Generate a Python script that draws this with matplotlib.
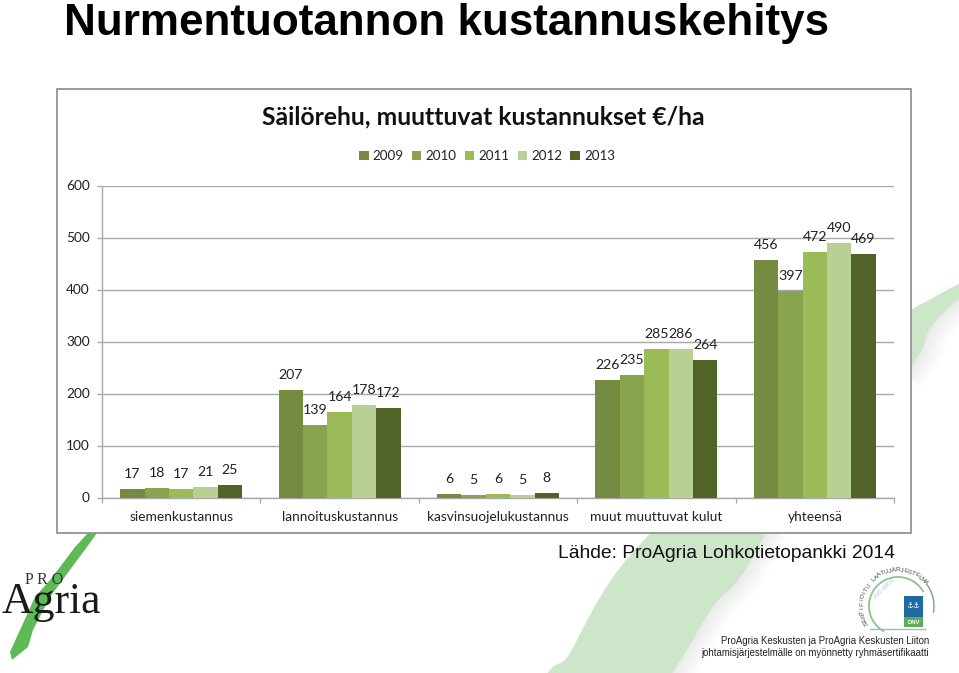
import numpy as np
import matplotlib
matplotlib.use("Agg")
import matplotlib.pyplot as plt
from matplotlib.patches import Polygon, Rectangle, Patch

categories = ["siemenkustannus", "lannoituskustannus", "kasvinsuojelukustannus",
              "muut muuttuvat kulut", "yhteensä"]
years = ["2009", "2010", "2011", "2012", "2013"]
v2009 = [17, 207, 6, 226, 456]
v2010 = [18, 139, 5, 235, 397]
v2011 = [17, 164, 6, 285, 472]
v2012 = [21, 178, 5, 286, 490]
v2013 = [25, 172, 8, 264, 469]
y_ticks = [0, 100, 200, 300, 400, 500, 600]

series = [v2009, v2010, v2011, v2012, v2013]
colors = ["#758b41", "#89a44f", "#9bba58", "#b8cf96", "#526327"]
TXT = "#222222"
GRID = "#a8a8a8"

W, H = 959, 673
fig = plt.figure(figsize=(W / 100, H / 100), dpi=100, facecolor="white")


def chaikin(points, rounds=3):
    """Round the corners of an open outline (slide decoration only)."""
    p = np.asarray(points, float)
    for _ in range(rounds):
        q = 0.75 * p[:-1] + 0.25 * p[1:]
        r = 0.25 * p[:-1] + 0.75 * p[1:]
        mid = np.empty((2 * len(q), 2))
        mid[0::2], mid[1::2] = q, r
        p = np.vstack([p[0], mid, p[-1]])
    return p


# ---- slide background (pixel coordinates) ----
bg = fig.add_axes([0, 0, 1, 1], zorder=0)
bg.set_xlim(0, W)
bg.set_ylim(H, 0)
bg.axis("off")

# light-green swash with soft grey shadow along its right edge
left_edge = chaikin([(655, 528), (628, 557), (607, 585), (587, 620), (572, 650), (564, 662),
                     (554, 665), (546, 675)])
right_edge = chaikin([(768, 528), (750, 563), (733, 587), (717, 600), (700, 627), (687, 650),
                      (671, 675)])
lower_edge = chaikin([(962, 296), (937, 318), (926, 335), (924, 348), (905, 375)])
upper_edge = chaikin([(905, 313), (962, 282)])
for lw in np.arange(3, 31, 3):
    bg.plot(right_edge[:, 0], right_edge[:, 1], color="#8a8a8a", alpha=0.014, lw=lw,
            solid_capstyle="butt", zorder=1)
    bg.plot(lower_edge[:, 0], lower_edge[:, 1], color="#8a8a8a", alpha=0.014, lw=lw,
            solid_capstyle="butt", zorder=1)
bg.add_patch(Polygon(np.vstack([left_edge, right_edge[::-1]]), closed=True,
                     fc="#cde6c9", ec="none", zorder=2))
bg.add_patch(Polygon(np.vstack([upper_edge, lower_edge]), closed=True,
                     fc="#cde6c9", ec="none", zorder=2))

# chart frame
bg.add_patch(Rectangle((57, 89), 854, 444, fc="white", ec="#9a9a9a", lw=1.4, zorder=3))

# slide title and source
bg.text(64, 35, "Nurmentuotannon kustannuskehitys", family="Liberation Sans",
        weight="bold", fontsize=31.7, color="black", ha="left", va="baseline", zorder=5)
bg.text(558, 558, "Lähde: ProAgria Lohkotietopankki 2014", family="Liberation Sans",
        fontsize=13.85, color="#111111", ha="left", va="baseline", zorder=5)
bg.text(929, 644, "ProAgria Keskusten ja ProAgria Keskusten Liiton", family="Liberation Sans",
        fontsize=6.95, color="#222222", ha="right", va="baseline", zorder=5)
bg.text(929, 656, "johtamisjärjestelmälle on myönnetty ryhmäsertifikaatti", family="Liberation Sans",
        fontsize=6.95, color="#222222", ha="right", va="baseline", zorder=5)

# ProAgria logo
stroke = [(88, 533), (75, 547), (63, 563), (50, 580), (35, 597), (20, 630), (10, 652), (12, 660),
          (28, 647), (33, 630), (50, 597), (75, 563), (87, 547), (97, 533)]
bg.add_patch(Polygon(stroke, closed=True, fc="#5dba57", ec="none", zorder=4))
bg.text(2, 613, "Agria", family="Liberation Serif", fontsize=31.5, color="#1a1a1a",
        ha="left", va="baseline", zorder=5)
bg.text(25, 584, "P R O", family="Liberation Serif", fontsize=11.5, color="#333333",
        ha="left", va="baseline", zorder=5)

# certification badge
cx, cy, R = 898, 606, 36
badge = "SERTIFIOITU LAATUJÄRJESTELMÄ"
angles = np.linspace(-118, 50, len(badge))
for ch, a in zip(badge, angles):
    r = np.deg2rad(a)
    bg.text(cx + R * np.sin(r), cy - R * np.cos(r), ch, rotation=-a, fontsize=4.6,
            family="Liberation Sans", color="#444444", ha="center", va="center",
            rotation_mode="anchor", zorder=5)
t = np.deg2rad(np.linspace(-150, 60, 80))
bg.plot(cx + 29 * np.sin(t), cy - 29 * np.cos(t), color="#8cc48a", lw=1.3, zorder=5)
t = np.deg2rad(np.linspace(55, 100, 30))
bg.plot(cx + 36 * np.sin(t), cy - 36 * np.cos(t), color="#7d9bb0", lw=1.0, zorder=5)
bg.plot([870, 925], [628.5, 628.5], color="#9db8cc", lw=1.0, zorder=5)
bg.text(884, 589, "ISO 9001", rotation=45, fontsize=4.5, family="Liberation Sans",
        color="#a8c4dc", ha="center", va="center", zorder=5)
bg.add_patch(Rectangle((904, 596), 19, 21, fc="#1f6aa5", ec="none", zorder=5))
bg.text(913.5, 606, "⚓⚓", fontsize=5.5, family="DejaVu Sans", color="white",
        ha="center", va="center", zorder=6)
bg.add_patch(Rectangle((904, 617), 19, 10, fc="#5fae57", ec="none", zorder=5))
bg.text(913.5, 622, "DNV", fontsize=4.2, family="Liberation Sans", weight="bold",
        color="white", ha="center", va="center", zorder=6)

# ---- chart ----
ax = fig.add_axes([102 / W, 1 - 497.5 / H, 792 / W, 312 / H], zorder=2)
ax.patch.set_alpha(0)
chart_font = "Lato"
n = len(categories)
x = np.arange(n)
w = 1 / 6.5
handles = []
for i, (vals, c, yr) in enumerate(zip(series, colors, years)):
    pos = x + (i - 2) * w
    bars = ax.bar(pos, vals, width=w, color=c, linewidth=0, zorder=3)
    handles.append(Patch(fc=c, ec="none", label=yr))
    for b, v in zip(bars, vals):
        ax.annotate(str(v), (b.get_x() + b.get_width() / 2, v), xytext=(0, 10.8),
                    textcoords="offset points", ha="center", va="center",
                    fontsize=10.2, family=chart_font, color=TXT, zorder=4)

ax.set_xlim(-0.5, n - 0.5)
ax.set_ylim(0, 600)
ax.set_yticks(y_ticks)
ax.set_xticks(x)
ax.set_xticklabels(categories)
ax.set_xticks(np.arange(n + 1) - 0.5, minor=True)
ax.tick_params(axis="x", which="major", length=0, pad=9.5)
ax.tick_params(axis="x", which="minor", length=3.5, color=GRID, width=0.9)
ax.tick_params(axis="y", length=3.8, color=GRID, width=1.0, pad=5)
for lab in ax.get_xticklabels() + ax.get_yticklabels():
    lab.set_fontfamily(chart_font)
    lab.set_fontsize(9.9)
    lab.set_color(TXT)
ax.yaxis.grid(True, color=GRID, lw=1.0, zorder=0)
ax.set_axisbelow(True)
for s in ("top", "right"):
    ax.spines[s].set_visible(False)
for s in ("left", "bottom"):
    ax.spines[s].set_color(GRID)
    ax.spines[s].set_linewidth(1.0)

fig.text(483 / W, 1 - 117 / H, "Säilörehu, muuttuvat kustannukset €/ha", family=chart_font,
         weight="bold", fontsize=17.8, color="#111111", ha="center", va="center", zorder=5)
fig.legend(handles=handles, ncols=5, loc="center", bbox_to_anchor=(487 / W, 1 - 156 / H),
           frameon=False, handlelength=0.72, handleheight=0.72, handletextpad=0.3,
           columnspacing=0.62, prop={"family": chart_font, "size": 9.6}, labelcolor=TXT)

fig.savefig("out.png", dpi=100)
